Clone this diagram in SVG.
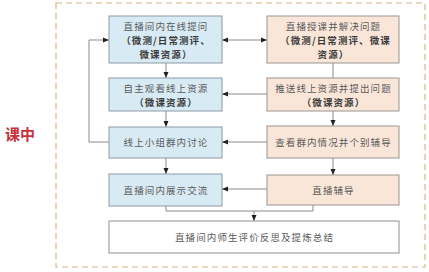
<svg xmlns="http://www.w3.org/2000/svg" width="429" height="272" viewBox="0 0 429 272">
<defs>
<marker id="ah" viewBox="0 0 6 6" refX="6" refY="3" markerWidth="6" markerHeight="6" orient="auto-start-reverse" markerUnits="userSpaceOnUse">
<path d="M0,0.5 L6,3 L0,5.5 Z" fill="#222"/>
</marker>
</defs>
<style>
.blue{fill:#d8eaf4;stroke:#8d9ba5;stroke-width:1}
.peach{fill:#f9e6d9;stroke:#9a9590;stroke-width:1}
.white{fill:#ffffff;stroke:#8f8f8f;stroke-width:1}
.t{font-family:"Noto Sans CJK SC","Noto Sans",sans-serif;font-size:9.5px;letter-spacing:1.1px;fill:#5a5a5a;text-anchor:middle;dominant-baseline:central}
.b{font-weight:bold;fill:#3a3a3a}
.c{fill:none;stroke:#8a8a8a;stroke-width:1}
.a{marker-end:url(#ah)}
</style>
<rect width="429" height="272" fill="#ffffff"/>
<rect x="56" y="3" width="369" height="264" fill="none" stroke="#d8b68c" stroke-width="1.2" stroke-dasharray="6,4"/>
<text x="20" y="133" font-family="Noto Sans CJK SC,sans-serif" font-size="15" font-weight="bold" fill="#c8323c" text-anchor="middle" dominant-baseline="central">课中</text>
<g id="connectors">
<path class="c" d="M222,40 H267" marker-start="url(#ah)" marker-end="url(#ah)"/>
<path class="c a" d="M166,63 V78"/>
<path class="c a" d="M166,111 V127"/>
<path class="c a" d="M166,158 V174"/>
<path class="c" d="M333,63 V78"/>
<path class="c a" d="M333,111 V126"/>
<path class="c a" d="M333,158 V175"/>
<path class="c a" d="M267,94 H222"/>
<path class="c a" d="M267,142 H222"/>
<path class="c a" d="M267,189 H222"/>
<path class="c a" d="M109,142 H89 V40 H109"/>
<path class="c" d="M166,206 V211 H313 V205"/>
<path class="c a" d="M254,211 V221"/>
</g>
<g id="n1">
<rect class="blue" x="109" y="16" width="113" height="47"/>
<text class="t" x="166" y="26">直播间内在线提问</text>
<text class="t b" x="166" y="40">（微测/日常测评、</text>
<text class="t b" x="166" y="54">微课资源）</text>
</g>
<g id="n2">
<rect class="blue" x="109" y="78" width="113" height="33"/>
<text class="t" x="166" y="87.5">自主观看线上资源</text>
<text class="t b" x="166" y="101.5">（微课资源）</text>
</g>
<g id="n3">
<rect class="blue" x="109" y="127" width="113" height="31"/>
<text class="t" x="166" y="142">线上小组群内讨论</text>
</g>
<g id="n4">
<rect class="blue" x="109" y="174" width="113" height="32"/>
<text class="t" x="166" y="190">直播间内展示交流</text>
</g>
<g id="n5">
<rect class="peach" x="267" y="16" width="132" height="47"/>
<text class="t" x="333.5" y="26">直播授课并解决问题</text>
<text class="t b" x="335.5" y="40">（微测/日常测评、微课</text>
<text class="t b" x="333.5" y="54">资源）</text>
</g>
<g id="n6">
<rect class="peach" x="267" y="78" width="132" height="33"/>
<text class="t" x="333.5" y="87.5">推送线上资源并提出问题</text>
<text class="t b" x="333.5" y="101.5">（微课资源）</text>
</g>
<g id="n7">
<rect class="peach" x="267" y="126" width="132" height="32"/>
<text class="t" x="333.5" y="142">查看群内情况并个别辅导</text>
</g>
<g id="n8">
<rect class="peach" x="267" y="175" width="132" height="30"/>
<text class="t" x="333.5" y="190">直播辅导</text>
</g>
<g id="n9">
<rect class="white" x="109" y="221" width="290" height="32"/>
<text class="t" x="254.5" y="237">直播间内师生评价反思及提炼总结</text>
</g>
</svg>
